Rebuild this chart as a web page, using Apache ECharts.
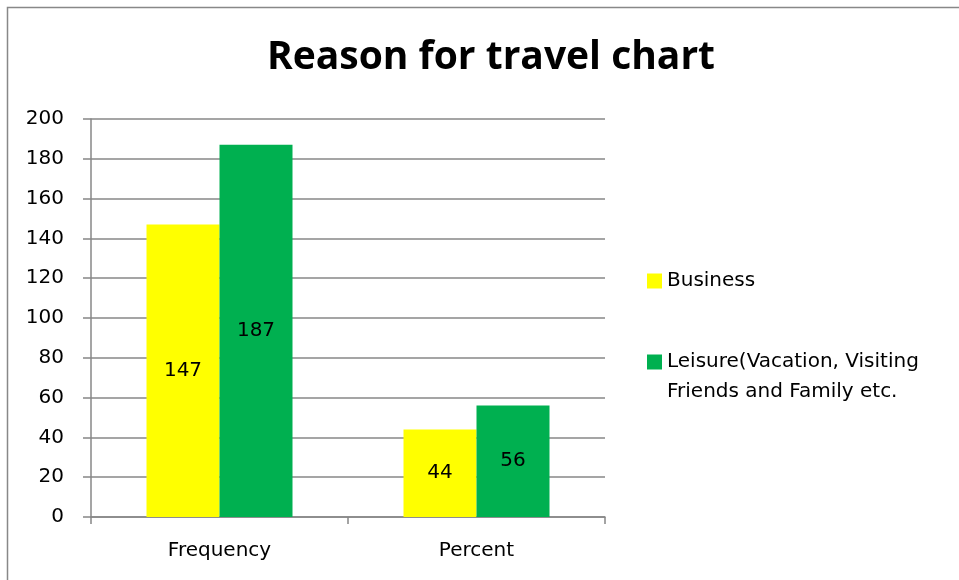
<!DOCTYPE html>
<html>
<head>
<meta charset="utf-8">
<script src="https://cdn.jsdelivr.net/npm/echarts@6/dist/echarts.min.js"></script>
<style>
  html, body { margin: 0; padding: 0; background: #fff; }
  #chart { width: 959px; height: 580px; }
</style>
</head>
<body>
<div id="chart"></div>
<script>
// Survey summary: reason for travel
const categories = ['Frequency', 'Percent'];
const businessValues = [147, 44];
const leisureValues = [187, 56];
const seriesNames = ['Business', 'Leisure(Vacation, Visiting Friends and Family etc.'];
const yTicks = [0, 20, 40, 60, 80, 100, 120, 140, 160, 180, 200];

const FONT = '"DejaVu Sans", sans-serif';
const TITLE_FONT = '"Open Sans", sans-serif';
const GRID_COLOR = '#878787';

const chart = echarts.init(document.getElementById('chart'));

const barLabel = {
  show: true,
  position: 'inside',
  color: '#000',
  fontFamily: FONT,
  fontSize: 20
};

chart.setOption({
  animation: false,
  backgroundColor: '#fff',
  graphic: [{
    type: 'rect',
    shape: { x: 7.5, y: 7.5, width: 1200, height: 1200 },
    style: { fill: 'none', stroke: '#888', lineWidth: 1.5 },
    silent: true
  }],
  title: {
    text: 'Reason for travel chart',
    left: 486,
    textAlign: 'center',
    top: 33,
    textStyle: { fontFamily: TITLE_FONT, fontWeight: 'bold', fontSize: 39, color: '#000' }
  },
  legend: {
    orient: 'vertical',
    left: 642,
    top: 261,
    itemWidth: 15,
    itemHeight: 15,
    itemGap: 21,
    icon: 'rect',
    textStyle: { fontFamily: FONT, fontSize: 20, color: '#000', lineHeight: 30 },
    // the leading blank line keeps the swatch level with the first text line
    formatter: function (name) {
      return name === seriesNames[1] ? '\nLeisure(Vacation, Visiting\nFriends and Family etc.' : name;
    },
    data: seriesNames
  },
  grid: { left: 91, right: 354, top: 119, bottom: 63, containLabel: false },
  xAxis: {
    type: 'category',
    data: categories,
    axisLine: { lineStyle: { color: GRID_COLOR, width: 1.5 } },
    axisTick: { show: true, length: 7, lineStyle: { color: GRID_COLOR, width: 1.5 } },
    axisLabel: { color: '#000', fontFamily: FONT, fontSize: 20, margin: 24 }
  },
  yAxis: {
    type: 'value',
    min: yTicks[0],
    max: yTicks[yTicks.length - 1],
    interval: yTicks[1] - yTicks[0],
    axisLine: { show: true, lineStyle: { color: GRID_COLOR, width: 1.5 } },
    axisTick: { show: true, inside: false, length: 8, lineStyle: { color: GRID_COLOR, width: 1.5 } },
    axisLabel: { color: '#000', fontFamily: FONT, fontSize: 20, margin: 27 },
    splitLine: { show: true, lineStyle: { color: GRID_COLOR, width: 1.5 } }
  },
  series: [
    {
      name: seriesNames[0],
      type: 'bar',
      data: businessValues,
      barWidth: 73,
      barGap: '0%',
      itemStyle: { color: '#ffff00' },
      label: barLabel
    },
    {
      name: seriesNames[1],
      type: 'bar',
      data: leisureValues,
      barWidth: 73,
      barGap: '0%',
      itemStyle: { color: '#00b050' },
      label: barLabel
    }
  ]
});
</script>
</body>
</html>
